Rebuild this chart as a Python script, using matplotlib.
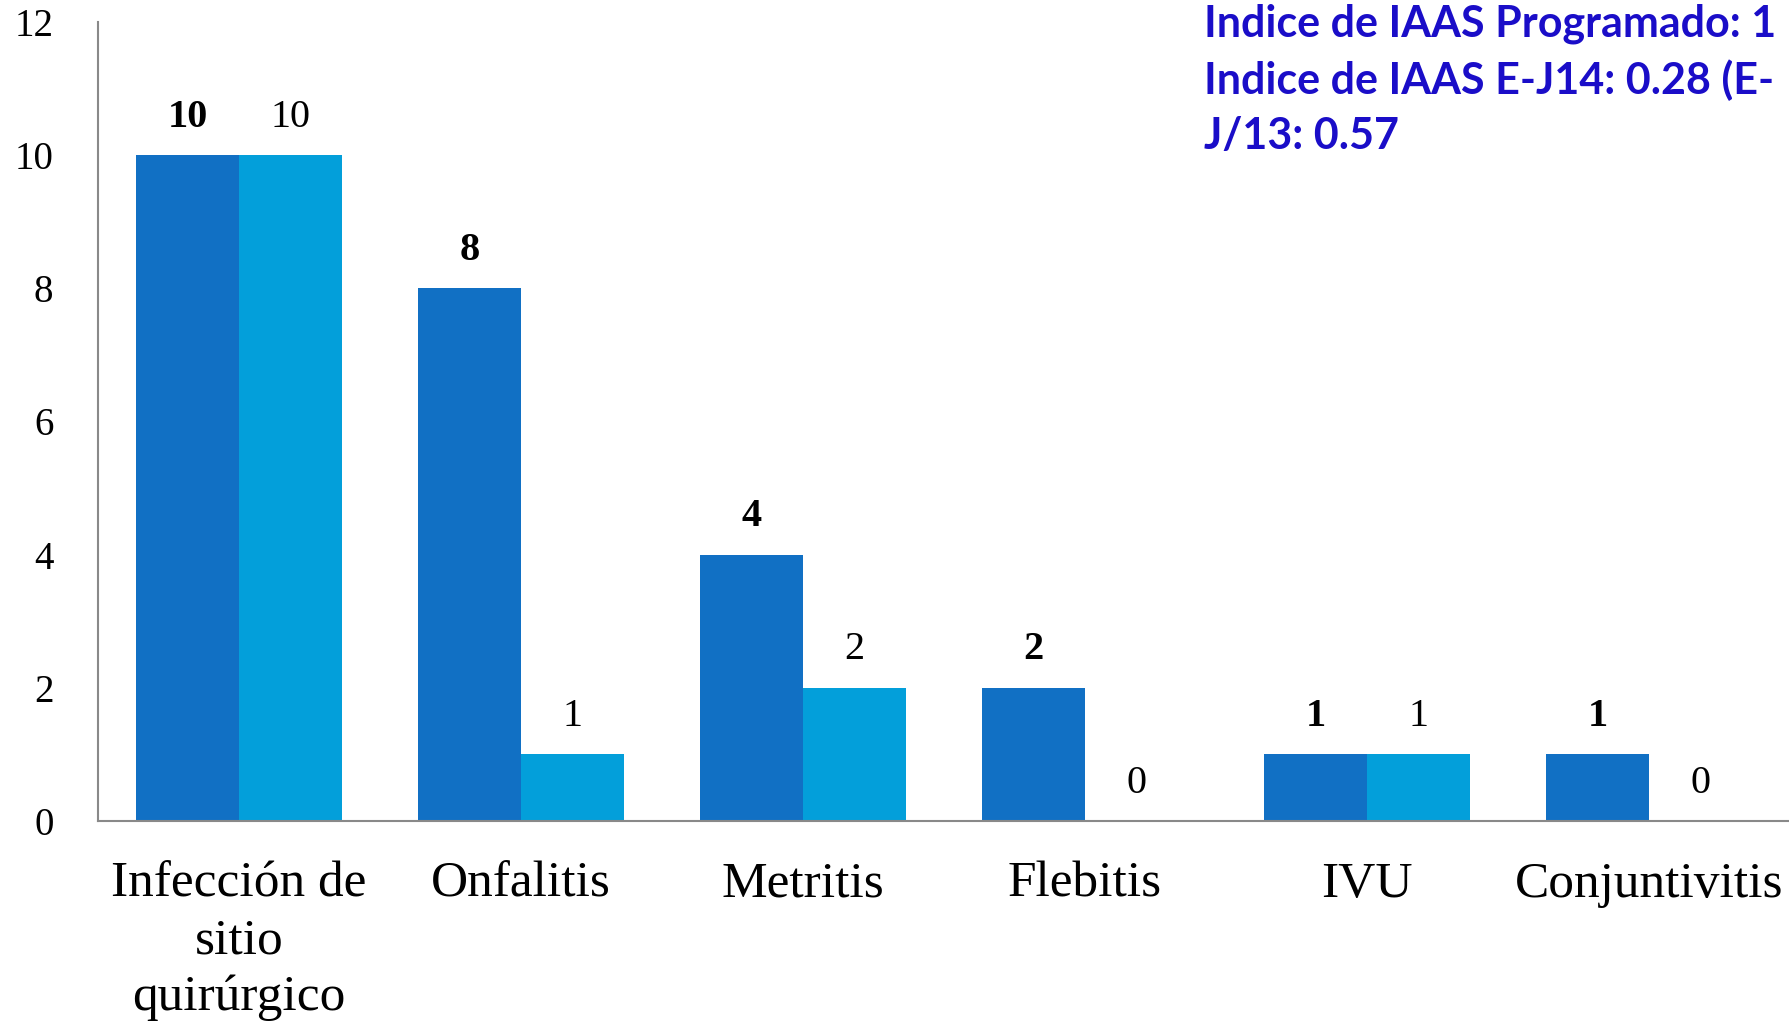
import matplotlib.pyplot as plt
import numpy as np

# data
categorias = ["Infección de\nsitio\nquirúrgico", "Onfalitis", "Metritis",
              "Flebitis", "IVU", "Conjuntivitis"]
serie_1 = [10, 8, 4, 2, 1, 1]
serie_2 = [10, 1, 2, 0, 1, 0]
ticks_y = [0, 2, 4, 6, 8, 10, 12]
nota = "Indice de IAAS Programado: 1\nIndice de IAAS E-J14: 0.28 (E-\nJ/13: 0.57"

color_1 = "#1170C4"
color_2 = "#039FDA"
serif = ["Liberation Serif", "DejaVu Serif"]

fig = plt.figure(figsize=(17.9, 10.27), dpi=100)
ax = fig.add_axes([0.0547, 0.2006, 0.9453, 0.778])

x = np.arange(len(categorias))
w = 0.365
b1 = ax.bar(x - w / 2, serie_1, w, color=color_1)
b2 = ax.bar(x + w / 2, serie_2, w, color=color_2)

for rects, vals, peso in [(b1, serie_1, "bold"), (b2, serie_2, "normal")]:
    for r, v in zip(rects, vals):
        ax.annotate(str(v), (r.get_x() + r.get_width() / 2, v),
                    xytext=(0, 14), textcoords="offset points",
                    ha="center", va="bottom", fontsize=29,
                    fontweight=peso, family=serif)

ax.set_xlim(-0.5, len(categorias) - 0.5)
ax.set_ylim(0, 12)
ax.set_yticks(ticks_y)
ax.set_xticks(x)
ax.set_xticklabels(categorias, fontsize=37, family=serif, linespacing=1.28)
ax.set_yticklabels([str(t) for t in ticks_y], fontsize=28, family=serif)
ax.tick_params(axis="both", length=0)
ax.tick_params(axis="x", pad=29)
ax.tick_params(axis="y", pad=32)

for s in ["top", "right"]:
    ax.spines[s].set_visible(False)
for s in ["left", "bottom"]:
    ax.spines[s].set_color("#898989")
    ax.spines[s].set_linewidth(1.5)

fig.text(0.6726, 0.997, nota, ha="left", va="top", fontsize=31,
         fontweight="bold", color="#1A0DC8", linespacing=1.45,
         family=["Lato", "DejaVu Sans"])

fig.savefig("out.png", dpi=100)
